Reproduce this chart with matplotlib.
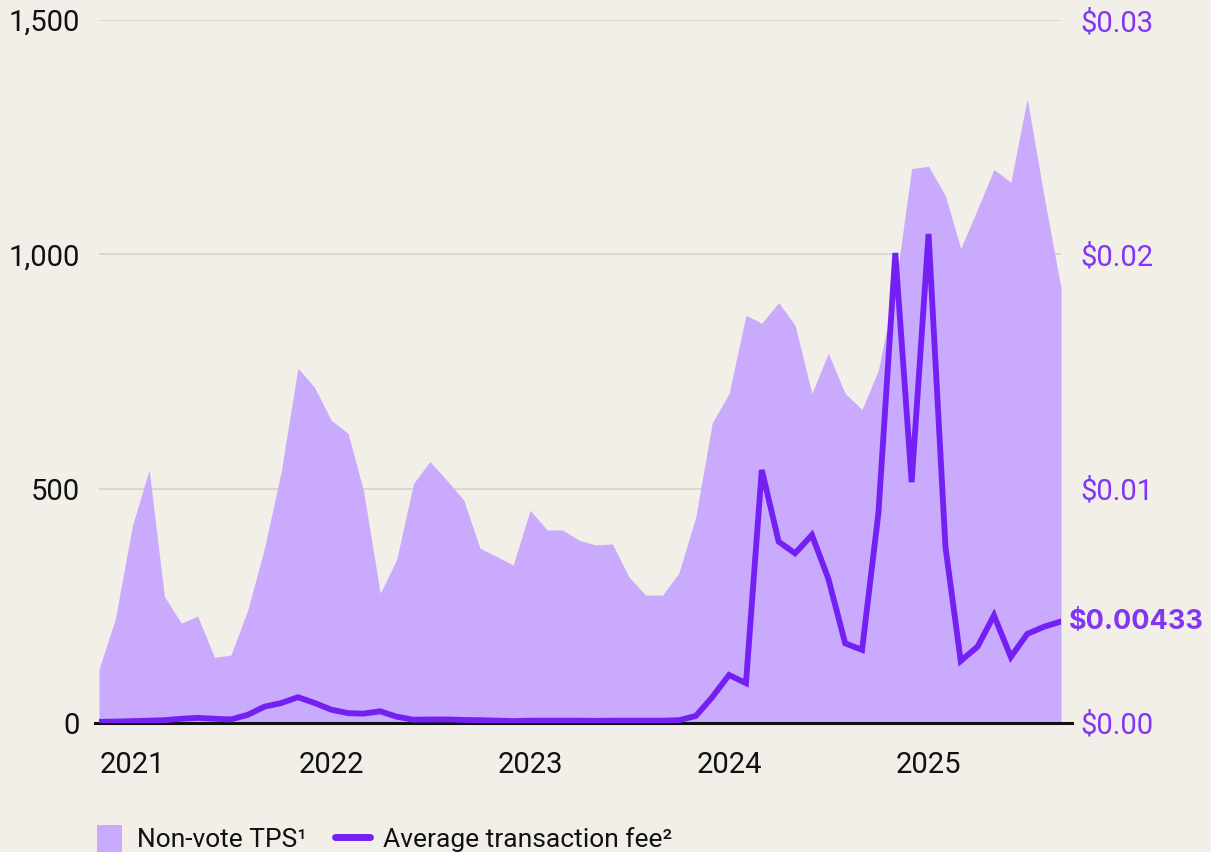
import matplotlib
matplotlib.use("Agg")
import matplotlib.pyplot as plt
import matplotlib.ticker as mticker
import numpy as np
import pandas as pd
from matplotlib.lines import Line2D
from matplotlib.patches import Rectangle

plt.rcParams["font.family"] = ["Roboto", "DejaVu Sans"]

# monthly series, Nov 2020 .. Sep 2025
months = pd.date_range("2020-11-01", periods=59, freq="MS")

non_vote_tps = [
    115, 222, 420, 540, 270, 213, 228, 140, 145, 241, 375, 535,
    757, 717, 646, 618, 497, 277, 348, 511, 558, 518, 476, 373,
    355, 337, 454, 412, 412, 390, 380, 382, 312, 273, 273, 320,
    440, 640, 703, 870, 853, 897, 849, 703, 789, 703, 669, 753,
    930, 1183, 1188, 1125, 1012, 1097, 1181, 1154, 1332, 1123, 928,
]

avg_fee = [
    0.00005, 0.00006, 0.00008, 0.00010, 0.00012, 0.00018, 0.00022, 0.00018,
    0.00015, 0.00035, 0.00070, 0.00085, 0.00110, 0.00086, 0.00057, 0.00042,
    0.00040, 0.00050, 0.00027, 0.00014, 0.00015, 0.00015, 0.00013, 0.00012,
    0.00010, 0.00008, 0.00010, 0.00010, 0.00010, 0.00010, 0.00009, 0.00010,
    0.00010, 0.00010, 0.00010, 0.00012, 0.00030, 0.00110, 0.00205, 0.00170,
    0.01080, 0.00774, 0.00724, 0.00802, 0.00617, 0.00340, 0.00312, 0.00895,
    0.02006, 0.01028, 0.02087, 0.00752, 0.00265, 0.00326, 0.00459, 0.00282,
    0.00380, 0.00411, 0.00433,
]

year_ticks = pd.to_datetime(["2021-01-01", "2022-01-01", "2023-01-01",
                             "2024-01-01", "2025-01-01"])
year_labels = ["2021", "2022", "2023", "2024", "2025"]

tps_ticks = [0, 500, 1000, 1500]
fee_ticks = [0.0, 0.01, 0.02, 0.03]

BG = "#f1efe8"
FILL = "#c9aafc"
LINE = "#7420f3"
FEE_TXT = "#8234f7"
GRID = "#d8d5ce"
FS = 21

W, H = 1211, 852
fig = plt.figure(figsize=(W / 100, H / 100), dpi=100, facecolor=BG)
ax = fig.add_axes([99 / W, (H - 723) / H, (1061 - 99) / W, (723 - 20) / H])
ax.set_facecolor(BG)

ax.fill_between(months, non_vote_tps, 0, color=FILL, lw=0, zorder=2)
ax.set_xlim(months[0], months[-1])
ax.set_ylim(0, 1500)
ax.set_yticks(tps_ticks)
ax.yaxis.set_major_formatter(mticker.FuncFormatter(lambda v, _: f"{v:,.0f}"))
ax.grid(axis="y", color=GRID, lw=1.3, zorder=1)
ax.set_xticks(year_ticks)
ax.set_xticklabels(year_labels)
ax.tick_params(axis="y", length=0, pad=14, labelsize=FS, labelcolor="#111111")
ax.tick_params(axis="x", length=0, pad=20, labelsize=FS, labelcolor="#111111")
for s in ax.spines.values():
    s.set_visible(False)

# baseline runs a little past both ends of the data
ax.plot([-0.004, 1.011], [0, 0], transform=ax.get_yaxis_transform(),
        color="#111111", lw=2.2, clip_on=False, zorder=3)

ax2 = ax.twinx()
ax2.plot(months, avg_fee, color=LINE, lw=4.2, solid_joinstyle="miter", zorder=4)
ax2.set_ylim(0, 0.03)
ax2.set_yticks(fee_ticks)
ax2.yaxis.set_major_formatter(mticker.FuncFormatter(lambda v, _: f"${v:.2f}"))
ax2.tick_params(axis="y", length=0, pad=14, labelsize=FS, labelcolor=FEE_TXT)
for s in ax2.spines.values():
    s.set_visible(False)

ax2.annotate(f"${avg_fee[-1]:.5f}", xy=(months[-1], avg_fee[-1]),
             xytext=(6, 0), textcoords="offset points", va="center",
             ha="left", fontsize=19.5, fontweight="bold", color=FEE_TXT,
             family=["Inter", "Roboto", "DejaVu Sans"], annotation_clip=False)

# legend along the bottom edge
LFS = 19
fig.add_artist(Rectangle((97 / W, 0), 25 / W, 27 / H, transform=fig.transFigure,
                         facecolor=FILL, edgecolor="none"))
fig.text(137 / W, 5 / H, "Non-vote TPS¹", fontsize=LFS, color="#111111",
         va="baseline", ha="left")
fig.add_artist(Line2D([335 / W, 370 / W], [15 / H, 15 / H], transform=fig.transFigure,
                      color=LINE, lw=5, solid_capstyle="round"))
fig.text(383 / W, 5 / H, "Average transaction fee²", fontsize=LFS, color="#111111",
         va="baseline", ha="left")

fig.savefig("out.png", dpi=100, facecolor=BG)
